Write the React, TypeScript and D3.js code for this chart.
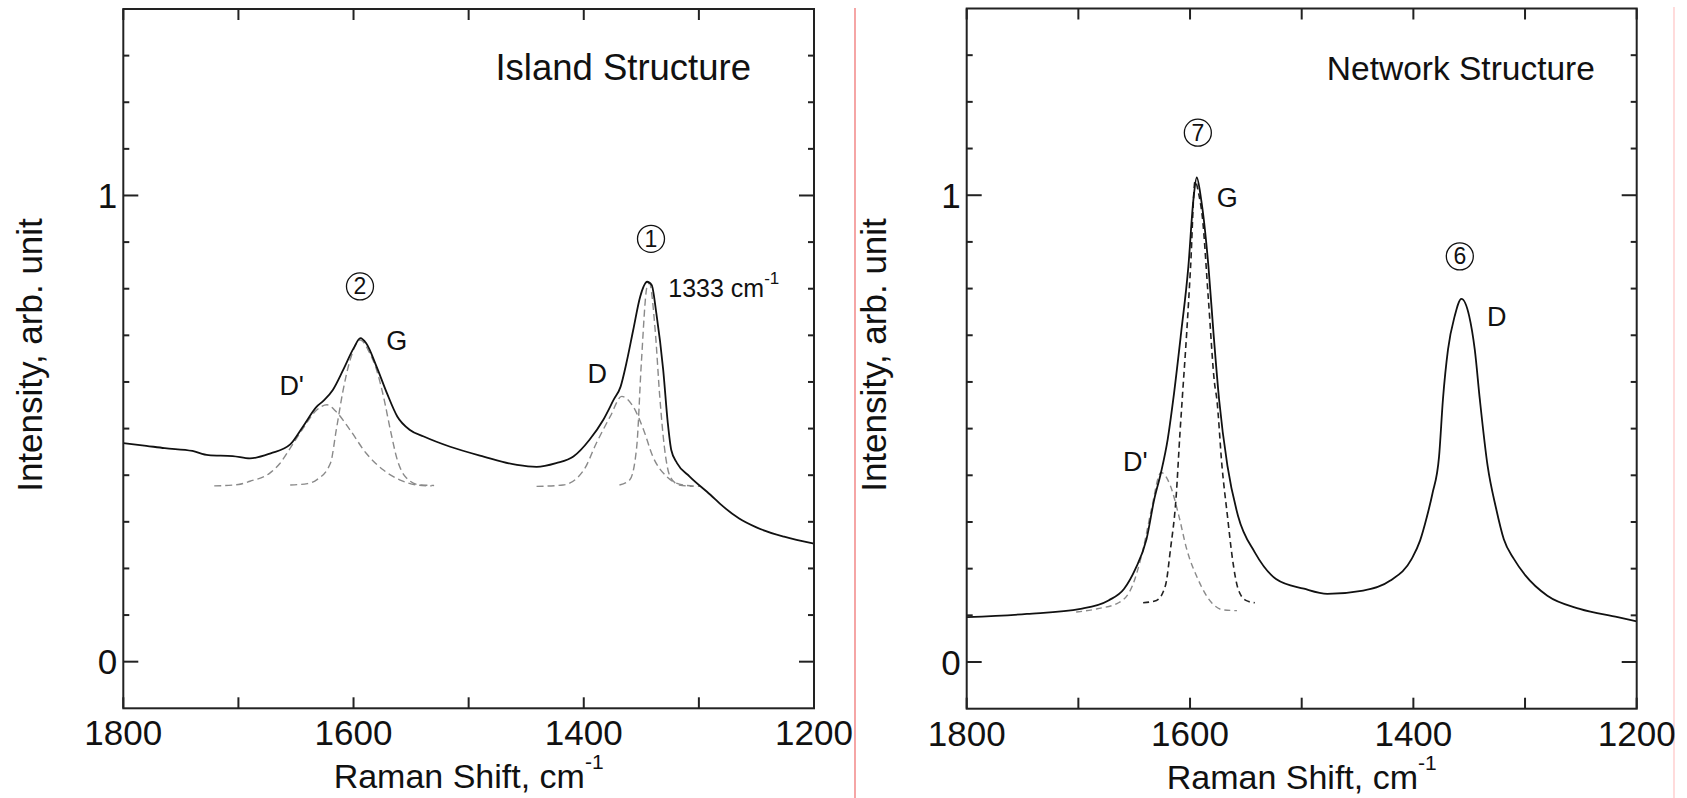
import React from "react";
import * as d3 from "d3";

const FONT = '"Liberation Sans", Arial, Helvetica, sans-serif';

// ---------- axes ----------
const xTickValues = [1800, 1700, 1600, 1500, 1400, 1300, 1200];
const xTickLabels = [1800, 1600, 1400, 1200];
const yMinorTicks = [0.1, 0.2, 0.3, 0.4, 0.5, 0.6, 0.7, 0.8, 0.9, 1.1, 1.2, 1.3];
const yMajorTicks = [0, 1];
const xDomain = [1800, 1200];
const yDomain = [-0.1, 1.4];

// ---------- Island structure (left) ----------
const islandSpecW = [1800, 1780, 1764, 1740, 1726, 1705, 1690, 1672, 1655, 1644, 1632, 1626, 1618, 1609, 1600, 1594, 1589, 1580, 1571, 1562, 1551, 1539, 1516, 1487, 1458, 1441, 1424, 1409, 1395, 1383, 1374, 1368, 1363, 1357, 1351, 1345, 1341, 1337, 1331, 1327, 1324, 1319, 1308, 1290, 1279, 1265, 1250, 1226, 1200];
const islandSpecV = [0.469, 0.463, 0.458, 0.452, 0.443, 0.441, 0.436, 0.447, 0.466, 0.504, 0.547, 0.56, 0.583, 0.626, 0.672, 0.694, 0.683, 0.633, 0.576, 0.526, 0.497, 0.483, 0.461, 0.44, 0.422, 0.418, 0.426, 0.44, 0.476, 0.519, 0.562, 0.59, 0.64, 0.712, 0.783, 0.815, 0.808, 0.748, 0.626, 0.512, 0.454, 0.426, 0.397, 0.358, 0.333, 0.307, 0.288, 0.268, 0.253];

const islandDpW = [1721, 1700, 1690, 1673, 1664, 1655, 1644, 1632, 1623, 1615, 1603, 1589, 1574, 1560, 1545, 1532];
const islandDpV = [0.377, 0.38, 0.387, 0.404, 0.425, 0.458, 0.5, 0.54, 0.551, 0.536, 0.497, 0.447, 0.411, 0.39, 0.379, 0.377];

const islandGW = [1655, 1640, 1632, 1620, 1615, 1609, 1603, 1594, 1586, 1580, 1574, 1568, 1562, 1554, 1542, 1530];
const islandGV = [0.379, 0.382, 0.39, 0.426, 0.497, 0.583, 0.647, 0.69, 0.662, 0.626, 0.569, 0.497, 0.433, 0.394, 0.379, 0.378];

const islandDW = [1441, 1418, 1400, 1389, 1377, 1367, 1357, 1348, 1340, 1328, 1314, 1299];
const islandDV = [0.376, 0.379, 0.411, 0.469, 0.526, 0.569, 0.547, 0.497, 0.44, 0.397, 0.379, 0.376];

const islandSharpW = [1369, 1360, 1354, 1350, 1345, 1343, 1338, 1334, 1330, 1325, 1317, 1305];
const islandSharpV = [0.379, 0.39, 0.461, 0.64, 0.805, 0.812, 0.712, 0.569, 0.461, 0.397, 0.379, 0.376];

// ---------- Network structure (right) ----------
const networkSpecW = [1800, 1746, 1698, 1673, 1659, 1649, 1639, 1632, 1626, 1620, 1615, 1608, 1601.5, 1597, 1594, 1590, 1583.5, 1579, 1574, 1566.5, 1557, 1542, 1523, 1498, 1477, 1445, 1421, 1401.5, 1394, 1388, 1383, 1377, 1373.5, 1369, 1363, 1357, 1350, 1345, 1340.5, 1333.5, 1326, 1319, 1310, 1299.5, 1280, 1251, 1217, 1200];
const networkSpecV = [0.096, 0.103, 0.114, 0.132, 0.157, 0.199, 0.263, 0.349, 0.406, 0.477, 0.563, 0.705, 0.847, 0.99, 1.038, 0.99, 0.847, 0.705, 0.563, 0.42, 0.313, 0.235, 0.178, 0.157, 0.146, 0.153, 0.174, 0.221, 0.26, 0.31, 0.36, 0.44, 0.563, 0.669, 0.741, 0.778, 0.741, 0.669, 0.563, 0.42, 0.33, 0.263, 0.221, 0.185, 0.142, 0.114, 0.096, 0.087];

const networkGW = [1642, 1630, 1622, 1617.5, 1612.6, 1609, 1607, 1603, 1599.5, 1595.5, 1592, 1589, 1583.5, 1578, 1576, 1571.4, 1566.5, 1562, 1557, 1550, 1542];
const networkGV = [0.127, 0.132, 0.164, 0.242, 0.349, 0.491, 0.563, 0.705, 0.847, 1.03, 1.0, 0.954, 0.775, 0.596, 0.563, 0.42, 0.313, 0.221, 0.157, 0.132, 0.127];

const networkDpW = [1702, 1683, 1664, 1651.5, 1642, 1634.5, 1626, 1617.5, 1610, 1603, 1593, 1581, 1571, 1558];
const networkDpV = [0.107, 0.114, 0.127, 0.164, 0.242, 0.328, 0.406, 0.377, 0.313, 0.242, 0.178, 0.128, 0.112, 0.11];

// ---------- annotations ----------
const islandPeakLabels = ["D'", "G", "D"];
const islandPeakLabelW = [1653.7, 1562.5, 1388.3];
const islandPeakLabelV = [0.594, 0.69, 0.619];
const islandCircleNums = ["2", "1"];
const islandCircleW = [1594.4, 1341.6];
const islandCircleV = [0.805, 0.907];

const networkPeakLabels = ["G", "D", "D'"];
const networkPeakLabelW = [1566.6, 1325.4, 1649];
const networkPeakLabelV = [0.997, 0.741, 0.431];
const networkCircleNums = ["7", "6"];
const networkCircleW = [1593, 1358.4];
const networkCircleV = [1.134, 0.869];

type Series = { w: number[]; v: number[]; color: string; dash?: string; width: number };

type PanelProps = {
  left: number;
  right: number;
  top: number;
  bottom: number;
  title: string;
  titleEndW: number;
  titleSize: number;
  series: Series[];
  labels: string[];
  labelW: number[];
  labelV: number[];
  circles: string[];
  circleW: number[];
  circleV: number[];
  children?: (xs: d3.ScaleLinear<number, number>, ys: d3.ScaleLinear<number, number>) => React.ReactNode;
};

function Panel(p: PanelProps) {
  const xs = d3.scaleLinear().domain(xDomain).range([p.left, p.right]);
  const ys = d3.scaleLinear().domain(yDomain).range([p.bottom, p.top]);
  const line = d3
    .line<[number, number]>()
    .x((d) => xs(d[0]))
    .y((d) => ys(d[1]))
    .curve(d3.curveMonotoneX);
  const midX = (p.left + p.right) / 2;
  const midY = 355;
  const stroke = "#222";
  return (
    <g>
      {p.series.map((s, i) => (
        <path
          key={i}
          d={line(d3.zip(s.w, s.v) as [number, number][]) || ""}
          fill="none"
          stroke={s.color}
          strokeWidth={s.width}
          strokeDasharray={s.dash}
          strokeLinejoin="round"
        />
      ))}
      <rect
        x={p.left}
        y={p.top}
        width={p.right - p.left}
        height={p.bottom - p.top}
        fill="none"
        stroke={stroke}
        strokeWidth={2}
      />
      {xTickValues.map((t) => (
        <g key={"xt" + t}>
          <line x1={xs(t)} x2={xs(t)} y1={p.bottom} y2={p.bottom - 11} stroke={stroke} strokeWidth={2} />
          <line x1={xs(t)} x2={xs(t)} y1={p.top} y2={p.top + 11} stroke={stroke} strokeWidth={2} />
        </g>
      ))}
      {xTickLabels.map((t) => (
        <text key={"xl" + t} x={xs(t)} y={p.bottom + 37} textAnchor="middle" fontSize={35} fontFamily={FONT} fill="#111">
          {t}
        </text>
      ))}
      {yMinorTicks.map((t) => (
        <g key={"ym" + t}>
          <line x1={p.left} x2={p.left + 6} y1={ys(t)} y2={ys(t)} stroke={stroke} strokeWidth={2} />
          <line x1={p.right} x2={p.right - 6} y1={ys(t)} y2={ys(t)} stroke={stroke} strokeWidth={2} />
        </g>
      ))}
      {yMajorTicks.map((t) => (
        <g key={"yM" + t}>
          <line x1={p.left} x2={p.left + 15} y1={ys(t)} y2={ys(t)} stroke={stroke} strokeWidth={2} />
          <line x1={p.right} x2={p.right - 15} y1={ys(t)} y2={ys(t)} stroke={stroke} strokeWidth={2} />
          <text x={p.left - 6} y={ys(t) + 12.5} textAnchor="end" fontSize={35} fontFamily={FONT} fill="#111">
            {t}
          </text>
        </g>
      ))}
      <text x={midX} y={p.bottom + 80} textAnchor="middle" fontSize={34} fontFamily={FONT} fill="#111">
        Raman Shift, cm
        <tspan fontSize={21} dy={-19}>
          -1
        </tspan>
      </text>
      <text
        transform={`translate(${p.left - 81},${midY}) rotate(-90)`}
        textAnchor="middle"
        fontSize={35}
        fontFamily={FONT}
        fill="#111"
      >
        Intensity, arb. unit
      </text>
      <text x={xs(p.titleEndW)} y={p.top + 71} textAnchor="end" fontSize={p.titleSize} fontFamily={FONT} fill="#111">
        {p.title}
      </text>
      {p.labels.map((l, i) => (
        <text
          key={"pl" + i}
          x={xs(p.labelW[i])}
          y={ys(p.labelV[i]) + 10}
          textAnchor="middle"
          fontSize={27}
          fontFamily={FONT}
          fill="#111"
        >
          {l}
        </text>
      ))}
      {p.circles.map((c, i) => (
        <g key={"c" + i}>
          <circle cx={xs(p.circleW[i])} cy={ys(p.circleV[i])} r={13.5} fill="none" stroke="#111" strokeWidth={1.3} />
          <text
            x={xs(p.circleW[i])}
            y={ys(p.circleV[i]) + 8}
            textAnchor="middle"
            fontSize={23}
            fontFamily={FONT}
            fill="#111"
          >
            {c}
          </text>
        </g>
      ))}
      {p.children ? p.children(xs, ys) : null}
    </g>
  );
}

export default function App() {
  const gray = "#8a8a8a";
  return (
    <div style={{ position: "fixed", left: 0, top: 0, width: 1687, height: 798, background: "#fff" }}>
      <svg width={1687} height={798} viewBox="0 0 1687 798" style={{ display: "block" }}>
        <rect width={1687} height={798} fill="#fff" />
        <line x1={855} x2={855} y1={8} y2={798} stroke="#ef6a6a" strokeWidth={1.2} />
        <line x1={1674} x2={1674} y1={7} y2={798} stroke="#ffc4c4" strokeWidth={1.2} />
        <Panel
          left={123.3}
          right={814}
          top={9}
          bottom={708.3}
          title="Island Structure"
          titleEndW={1254.7}
          titleSize={36.5}
          series={[
            { w: islandDpW, v: islandDpV, color: gray, dash: "7,4", width: 1.4 },
            { w: islandGW, v: islandGV, color: gray, dash: "7,4", width: 1.4 },
            { w: islandDW, v: islandDV, color: gray, dash: "7,4", width: 1.4 },
            { w: islandSharpW, v: islandSharpV, color: gray, dash: "7,4", width: 1.4 },
            { w: islandSpecW, v: islandSpecV, color: "#111", width: 1.8 },
          ]}
          labels={islandPeakLabels}
          labelW={islandPeakLabelW}
          labelV={islandPeakLabelV}
          circles={islandCircleNums}
          circleW={islandCircleW}
          circleV={islandCircleV}
        >
          {(xs, ys) => (
            <text x={xs(1326.6)} y={ys(0.783)} fontSize={25} fontFamily={FONT} fill="#111">
              1333 cm
              <tspan fontSize={17} dy={-13}>
                -1
              </tspan>
            </text>
          )}
        </Panel>
        <Panel
          left={966.7}
          right={1636.7}
          top={8.5}
          bottom={708.7}
          title="Network Structure"
          titleEndW={1237.4}
          titleSize={33.5}
          series={[
            { w: networkDpW, v: networkDpV, color: gray, dash: "6,4", width: 1.4 },
            { w: networkGW, v: networkGV, color: "#222", dash: "6,4", width: 1.6 },
            { w: networkSpecW, v: networkSpecV, color: "#111", width: 1.8 },
          ]}
          labels={networkPeakLabels}
          labelW={networkPeakLabelW}
          labelV={networkPeakLabelV}
          circles={networkCircleNums}
          circleW={networkCircleW}
          circleV={networkCircleV}
        />
      </svg>
    </div>
  );
}
